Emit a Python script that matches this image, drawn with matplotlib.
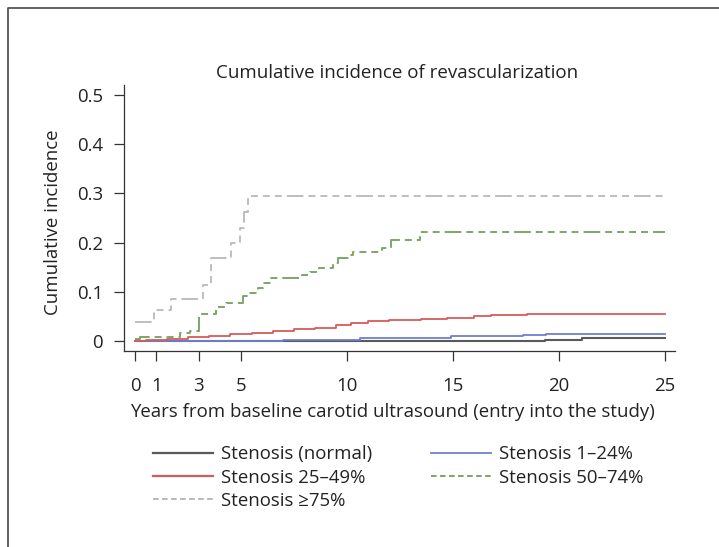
import matplotlib
matplotlib.use("Agg")
import matplotlib.pyplot as plt
from matplotlib.lines import Line2D

plt.rcParams['font.family'] = ['Open Sans', 'DejaVu Sans']
plt.rcParams['lines.scale_dashes'] = False

# step curves (time in years, cumulative incidence)
t_normal = [0, 11.5, 19.35, 21.1, 25]
v_normal = [0.0, 0.001, 0.003, 0.0055, 0.0055]

t_1_24 = [0, 7.0, 10.6, 14.9, 18.3, 19.4, 25]
v_1_24 = [0.0, 0.002, 0.007, 0.010, 0.012, 0.0135, 0.0135]

t_25_49 = [0, 0.5, 1.5, 2.5, 3.5, 4.5, 5.5, 6.5, 7.5, 8.5, 9.5, 10.2, 11.0, 12.0,
           13.5, 14.7, 16.0, 16.8, 18.5, 25]
v_25_49 = [0.0, 0.002, 0.004, 0.008, 0.011, 0.014, 0.017, 0.021, 0.024, 0.027, 0.032,
           0.036, 0.040, 0.043, 0.045, 0.047, 0.050, 0.053, 0.055, 0.055]

t_50_74 = [0, 0.25, 2.1, 2.6, 3.0, 3.8, 4.3, 5.1, 5.3, 5.8, 6.05, 6.4, 7.9, 8.25,
           8.7, 9.35, 9.6, 10.1, 10.3, 11.65, 12.1, 13.45, 25]
v_50_74 = [0.005, 0.009, 0.016, 0.020, 0.055, 0.070, 0.077, 0.091, 0.098, 0.108,
           0.118, 0.128, 0.134, 0.140, 0.148, 0.158, 0.169, 0.175, 0.181, 0.189,
           0.205, 0.222, 0.222]

t_75 = [0, 0.9, 1.7, 3.2, 3.6, 4.55, 4.95, 5.15, 5.35, 25]
v_75 = [0.039, 0.062, 0.085, 0.114, 0.169, 0.200, 0.230, 0.262, 0.295, 0.295]

labels = ['Stenosis (normal)', 'Stenosis 1\u201324%', 'Stenosis 25\u201349%',
          'Stenosis 50\u201374%', 'Stenosis \u226575%']
colors = ['#5a5a5a', '#6f7fcf', '#d65c5c', '#7aa766', '#b9b9b9']

x_ticks = [0, 1, 3, 5, 10, 15, 20, 25]
y_ticks = [0, 0.1, 0.2, 0.3, 0.4, 0.5]
y_ticklabels = ['0', '0.1', '0.2', '0.3', '0.4', '0.5']

W, H = 719, 547
fs = 13.4
fig = plt.figure(figsize=(W / 100, H / 100), dpi=100)
ax = fig.add_axes([124 / W, 1 - 351 / H, (675 - 124) / W, (351 - 85) / H])

pattern = (0, (12, 3.6, 5, 3.6, 5, 3.6, 5, 3.6, 5, 3.6))
ax.step(t_normal, v_normal, where='post', color=colors[0], lw=1.5)
ax.step(t_1_24, v_1_24, where='post', color=colors[1], lw=1.3)
ax.step(t_25_49, v_25_49, where='post', color=colors[2], lw=1.3)
ax.step(t_50_74, v_50_74, where='post', color=colors[3], lw=1.4, linestyle=pattern)
ax.step(t_75, v_75, where='post', color=colors[4], lw=1.3, linestyle=pattern)

ax.set_xlim(-0.52, 25.48)
ax.set_ylim(-0.0203, 0.520)
ax.set_xticks(x_ticks)
ax.set_xticklabels([str(x) for x in x_ticks])
ax.set_yticks(y_ticks)
ax.set_yticklabels(y_ticklabels)
for s in ['top', 'right']:
    ax.spines[s].set_visible(False)
for s in ['left', 'bottom']:
    ax.spines[s].set_color('#333333')
    ax.spines[s].set_linewidth(0.9)
ax.tick_params(axis='both', direction='out', length=7, width=0.9, color='#333333',
               labelsize=fs, labelcolor='#222222')
ax.tick_params(axis='x', pad=12)
ax.tick_params(axis='y', pad=8)

fig.text(397 / W, 1 - 73 / H, 'Cumulative incidence of revascularization',
         ha='center', va='center', fontsize=13.5, color='#222222')
fig.text(53 / W, 1 - 222 / H, 'Cumulative incidence', rotation=90,
         ha='center', va='center', fontsize=fs, color='#222222')
fig.text(392 / W, 1 - 412 / H,
         'Years from baseline carotid ultrasound (entry into the study)',
         ha='center', va='center', fontsize=fs, color='#222222')

dash = (0, (4, 2.5))
handles = [
    Line2D([], [], color=colors[0], lw=1.6),
    Line2D([], [], color=colors[2], lw=1.6),
    Line2D([], [], color=colors[4], lw=1.4, linestyle=dash),
    Line2D([], [], color=colors[1], lw=1.3),
    Line2D([], [], color=colors[3], lw=1.4, linestyle=dash),
]
order = [0, 2, 4, 1, 3]
fig.legend(handles, [labels[i] for i in order], ncol=2, frameon=False,
           loc='upper left', bbox_to_anchor=(144 / W, 1 - 436 / H),
           fontsize=fs, handlelength=3.2, handletextpad=0.42,
           columnspacing=3.2, labelspacing=0.28, borderpad=0,
           labelcolor='#222222')

# outer frame (top and left edges visible in the reference)
fig.add_artist(Line2D([8 / W, 8 / W, 1.0], [0.0, 1 - 8 / H, 1 - 8 / H],
                      transform=fig.transFigure, color='#555555', lw=1.3))

fig.savefig('out.png', dpi=100)
